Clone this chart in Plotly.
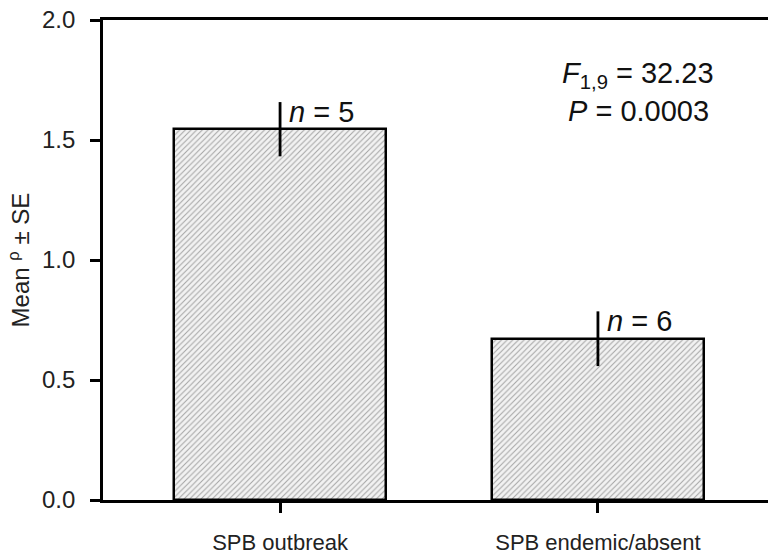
import plotly.graph_objects as go

categories = ["SPB outbreak", "SPB endemic/absent"]
means = [1.545, 0.672]
se = [0.113, 0.114]
n_labels = ["<i>n</i> = 5", "<i>n</i> = 6"]
y_ticks = [0.0, 0.5, 1.0, 1.5, 2.0]

xpos = [0, 1]

fig = go.Figure()
fig.add_trace(go.Bar(
    x=xpos, y=means, width=0.667,
    marker=dict(color="white",
                line=dict(color="black", width=2.5),
                pattern=dict(shape="/", fgcolor="#555555", bgcolor="#f2f2f2",
                             size=4, solidity=0.25)),
    error_y=dict(type="data", array=se, visible=True, color="black",
                 thickness=2.8, width=0),
    showlegend=False,
))

for x, m, s, lab in zip(xpos, means, se, n_labels):
    fig.add_annotation(x=x, y=m + s, text=lab, showarrow=False,
                       xanchor="left", yanchor="middle", xshift=7, yshift=-10,
                       font=dict(size=29, color="#111"))

fig.add_annotation(xref="paper", yref="paper", x=0.805, y=0.885,
                   text="<i>F</i><sub>1,9</sub> = 32.23", showarrow=False,
                   xanchor="center", yanchor="middle",
                   font=dict(size=29, color="#111"))
fig.add_annotation(xref="paper", yref="paper", x=0.805, y=0.81,
                   text="<i>P</i> = 0.0003", showarrow=False,
                   xanchor="center", yanchor="middle",
                   font=dict(size=29, color="#111"))

fig.update_layout(
    width=768, height=557,
    margin=dict(l=103, r=0, t=20, b=57),
    plot_bgcolor="white", paper_bgcolor="white",
    font=dict(family="Liberation Sans, Arial, sans-serif", color="#222"),
    bargap=0,
)
fig.update_xaxes(
    range=[-0.557, 1.535], tickvals=xpos, ticktext=categories,
    showline=True, linecolor="black", linewidth=2.8, mirror=True,
    ticks="outside", ticklen=10, tickwidth=2.8, tickcolor="black",
    tickfont=dict(size=22), ticklabelstandoff=11,
    showgrid=False, zeroline=False, automargin=False,
)
fig.update_yaxes(
    range=[0, 2.0], tickvals=y_ticks, tickformat=".1f",
    showline=True, linecolor="black", linewidth=2.8,
    ticks="outside", ticklen=10, tickwidth=2.8, tickcolor="black",
    tickfont=dict(size=24), ticklabelstandoff=10,
    showgrid=False, zeroline=False, automargin=False,
    title=dict(text="Mean <sup>ρ</sup> ± SE",
               font=dict(size=24), standoff=6),
)

fig.write_html("out.html", config={"displayModeBar": False},
               post_script="document.body.style.margin='0';document.body.style.padding='0';")
